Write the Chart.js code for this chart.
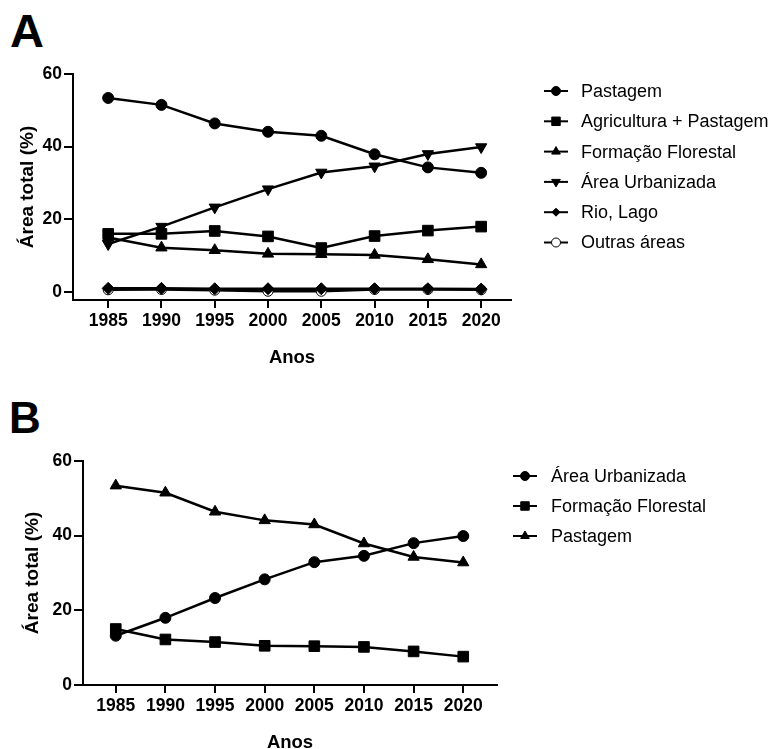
<!DOCTYPE html>
<html>
<head>
<meta charset="utf-8">
<script src="https://cdn.jsdelivr.net/npm/chart.js@4.4.1/dist/chart.umd.min.js"></script>
<style>
html, body { margin: 0; padding: 0; background: #fff; width: 777px; height: 749px; overflow: hidden; }
.letra { position: absolute; font-family: "Liberation Sans", Arial, sans-serif; font-weight: bold; line-height: 1; color: #000; }
canvas { position: absolute; left: 0; }
</style>
</head>
<body>
<div class="letra" style="left:10px; top:7px; font-size:47px;">A</div>
<div class="letra" style="left:9px; top:396px; font-size:44px;">B</div>
<canvas id="chartA" width="777" height="380" style="top:0"></canvas>
<canvas id="chartB" width="777" height="380" style="top:380px"></canvas>
<script>
const FONT = '"Liberation Sans", Arial, sans-serif';

// dados (% da área total)
const anos = [1985, 1990, 1995, 2000, 2005, 2010, 2015, 2020];
const yTicks = [0, 20, 40, 60];
const pastagem = [53.4, 51.5, 46.4, 44.1, 43.0, 37.9, 34.3, 32.8];
const agriculturaPastagem = [16.0, 16.0, 16.8, 15.3, 12.1, 15.4, 16.9, 18.0];
const formacaoFlorestal = [15.0, 12.2, 11.5, 10.5, 10.4, 10.2, 9.0, 7.6];
const areaUrbanizada = [13.2, 18.0, 23.3, 28.3, 32.9, 34.6, 38.0, 39.9];
const rioLago = [1.0, 1.0, 0.9, 0.9, 0.9, 0.9, 0.9, 0.8];
const outrasAreas = [0.6, 0.7, 0.5, 0.2, 0.2, 0.7, 0.7, 0.6];

function pontos(valores) {
	return anos.map((a, i) => ({x: a, y: valores[i]}));
}

function serie(label, valores, estilo, raio, legRaio, extra) {
	return Object.assign({
		label: label,
		data: pontos(valores),
		borderColor: '#000',
		backgroundColor: '#000',
		borderWidth: 2.5,
		pointStyle: estilo,
		pointRadius: raio,
		pointHoverRadius: raio,
		pointBackgroundColor: '#000',
		pointBorderColor: '#000',
		pointBorderWidth: 1,
		pointRotation: 0,
		legendRadius: legRaio,
		tension: 0
	}, extra || {});
}

const legendaLateral = {
	id: 'legendaLateral',
	afterDraw(chart, args, opts) {
		const ctx = chart.ctx;
		ctx.save();
		chart.data.datasets.forEach((ds, i) => {
			const y = opts.y0 + i * opts.dy;
			ctx.strokeStyle = '#000';
			ctx.lineWidth = 2;
			ctx.beginPath();
			ctx.moveTo(opts.x0, y);
			ctx.lineTo(opts.x0 + 24, y);
			ctx.stroke();
			ctx.fillStyle = ds.pointBackgroundColor;
			ctx.strokeStyle = '#000';
			ctx.lineWidth = 1;
			Chart.helpers.drawPoint(ctx, {
				pointStyle: ds.pointStyle,
				rotation: ds.pointRotation,
				radius: ds.legendRadius,
				borderWidth: 1
			}, opts.x0 + 12, y);
			ctx.fillStyle = '#000';
			ctx.font = '18px ' + FONT;
			ctx.textAlign = 'left';
			ctx.textBaseline = 'middle';
			ctx.fillText(ds.label, opts.textX, y + 1);
		});
		ctx.restore();
	}
};

function escalas(o) {
	return {
		x: {
			type: 'linear',
			min: o.xMin,
			max: o.xMax,
			afterBuildTicks: s => { s.ticks = anos.map(v => ({value: v})); },
			afterFit: s => { s.height = o.xAltura; },
			ticks: {
				color: '#000',
				font: {family: FONT, size: 17.5, weight: 'bold'},
				padding: 3,
				maxRotation: 0,
				autoSkip: false,
				callback: v => String(v)
			},
			grid: {drawOnChartArea: false, color: '#000', lineWidth: 2, tickLength: 8},
			border: {color: '#000', width: 2},
			title: {
				display: true, text: 'Anos', color: '#000',
				font: {family: FONT, size: 18.5, weight: 'bold'},
				padding: {top: 0, bottom: o.xTituloPad}
			}
		},
		y: {
			type: 'linear',
			min: o.yMin,
			max: 60,
			afterBuildTicks: s => { s.ticks = yTicks.map(v => ({value: v})); },
			afterFit: s => { s.width = o.yLargura; },
			ticks: {
				color: '#000',
				font: {family: FONT, size: 17.5, weight: 'bold'},
				padding: 2
			},
			grid: {drawOnChartArea: false, color: '#000', lineWidth: 2, tickLength: 9},
			border: {color: '#000', width: 2},
			title: {
				display: true, text: 'Área total (%)', color: '#000',
				font: {family: FONT, size: 19, weight: 'bold'},
				padding: {top: o.yTituloPad, bottom: 0}
			}
		}
	};
}

new Chart(document.getElementById('chartA'), {
	type: 'line',
	data: {
		datasets: [
			serie('Pastagem', pastagem, 'circle', 5.5, 4.5),
			serie('Agricultura + Pastagem', agriculturaPastagem, 'rect', 7.5, 6),
			serie('Formação Florestal', formacaoFlorestal, 'triangle', 6.5, 5),
			serie('Área Urbanizada', areaUrbanizada, 'triangle', 6.5, 5, {pointRotation: 180}),
			serie('Rio, Lago', rioLago, 'rectRot', 6, 4),
			serie('Outras áreas', outrasAreas, 'circle', 5, 4.5, {pointBackgroundColor: '#fff'})
		]
	},
	options: {
		responsive: false,
		animation: false,
		layout: {padding: {left: 0, right: 266, top: 74, bottom: 0}},
		scales: escalas({xMin: 1981.7, xMax: 2022.8, yMin: -2.2, xAltura: 80, yLargura: 73, xTituloPad: 11, yTituloPad: 16}),
		plugins: {
			legend: {display: false},
			tooltip: {enabled: false},
			legendaLateral: {x0: 544, textX: 581, y0: 91, dy: 30.3}
		}
	},
	plugins: [legendaLateral]
});

new Chart(document.getElementById('chartB'), {
	type: 'line',
	data: {
		datasets: [
			serie('Área Urbanizada', areaUrbanizada, 'circle', 5.5, 4.5),
			serie('Formação Florestal', formacaoFlorestal, 'rect', 7.5, 6),
			serie('Pastagem', pastagem, 'triangle', 6.5, 5)
		]
	},
	options: {
		responsive: false,
		animation: false,
		layout: {padding: {left: 0, right: 280, top: 81, bottom: 0}},
		scales: escalas({xMin: 1981.7, xMax: 2023.4, yMin: 0, xAltura: 75, yLargura: 83, xTituloPad: 6, yTituloPad: 21}),
		plugins: {
			legend: {display: false},
			tooltip: {enabled: false},
			legendaLateral: {x0: 513, textX: 551, y0: 96, dy: 30}
		}
	},
	plugins: [legendaLateral]
});
</script>
</body>
</html>
